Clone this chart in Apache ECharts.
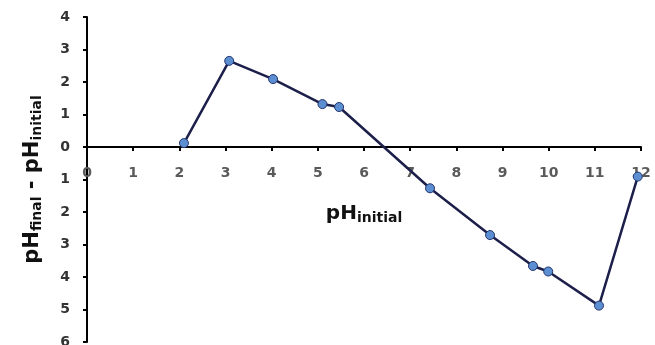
<!DOCTYPE html>
<html>
<head>
<meta charset="utf-8">
<script src="https://cdn.jsdelivr.net/npm/echarts@6/dist/echarts.min.js"></script>
<style>
  html, body { margin: 0; padding: 0; background: #fff; }
  #chart { width: 655px; height: 345px; }
</style>
</head>
<body>
<div id="chart"></div>
<script>
// Change in pH after equilibration versus starting pH
const phInitial = [2.10, 3.08, 4.03, 5.10, 5.46, 7.43, 8.73, 9.66, 9.99, 11.09, 11.93];
const phChange  = [0.12, 2.65, 2.09, 1.32, 1.23, -1.27, -2.71, -3.66, -3.83, -4.88, -0.91];

// Tick values and the text printed beside them (no minus signs on the y axis)
const yTicks = [-6, -5, -4, -3, -2, -1, 0, 1, 2, 3, 4];
const yTickLabels = ['6', '5', '4', '3', '2', '1', '0', '1', '2', '3', '4'];
const xTickLabels = ['0', '1', '2', '3', '4', '5', '6', '7', '8', '9', '10', '11', '12'];

const points = phInitial.map((x, i) => [x, phChange[i]]);
const font = 'DejaVu Sans';

const W = 655, H = 345;
const grid = { left: 87, right: 14, top: 17, bottom: 3 };
const yMin = yTicks[0], yMax = yTicks[yTicks.length - 1];
// lift the x axis (line, ticks, labels, name) from the grid bottom up to y = 0
const plotH = H - grid.top - grid.bottom;
const xAxisLift = plotH * (0 - yMin) / (yMax - yMin);

const chart = echarts.init(document.getElementById('chart'));
chart.setOption({
  animation: false,
  backgroundColor: '#ffffff',
  grid: Object.assign({ containLabel: false, outerBoundsMode: 'none' }, grid),
  xAxis: {
    type: 'value',
    min: 0, max: 12, interval: 1,
    offset: -xAxisLift,
    axisLine: { onZero: false, lineStyle: { color: '#000', width: 2 } },
    axisTick: { show: true, length: 4, lineStyle: { color: '#000', width: 2 } },
    splitLine: { show: false },
    axisLabel: {
      margin: 19,
      color: '#5a5a5a',
      fontFamily: font, fontWeight: 'bold', fontSize: 14,
      formatter: v => xTickLabels[Math.round(v)]
    },
    name: '{b|pH}{s|initial}',
    nameLocation: 'middle',
    nameGap: 56,
    nameTextStyle: {
      rich: {
        b: { fontFamily: font, fontWeight: 'bold', fontSize: 20, color: '#111' },
        s: { fontFamily: font, fontWeight: 'bold', fontSize: 14, color: '#111', verticalAlign: 'bottom', padding: [8, 0, 0, 0] }
      }
    }
  },
  yAxis: {
    type: 'value',
    min: yMin, max: yMax, interval: 1,
    axisLine: { onZero: false, lineStyle: { color: '#000', width: 2 } },
    axisTick: { show: true, length: 4, lineStyle: { color: '#000', width: 2 } },
    splitLine: { show: false },
    axisLabel: {
      margin: 17,
      color: '#333',
      fontFamily: font, fontWeight: 'bold', fontSize: 14,
      formatter: v => yTickLabels[yTicks.indexOf(Math.round(v))]
    },
    name: '{b|pH}{s|final}{b| - pH}{s|initial}',
    nameLocation: 'middle',
    nameGap: 43,
    nameRotate: 90,
    nameTextStyle: {
      rich: {
        b: { fontFamily: font, fontWeight: 'bold', fontSize: 21, color: '#111' },
        s: { fontFamily: font, fontWeight: 'bold', fontSize: 14, color: '#111', verticalAlign: 'bottom', padding: [8, 0, 0, 0] }
      }
    }
  },
  series: [{
    type: 'line',
    data: points,
    symbol: 'circle',
    symbolSize: 9,
    lineStyle: { color: '#1c1f4a', width: 2.5 },
    itemStyle: { color: '#5b8fd2', borderColor: '#24356e', borderWidth: 1 }
  }]
});
</script>
</body>
</html>
